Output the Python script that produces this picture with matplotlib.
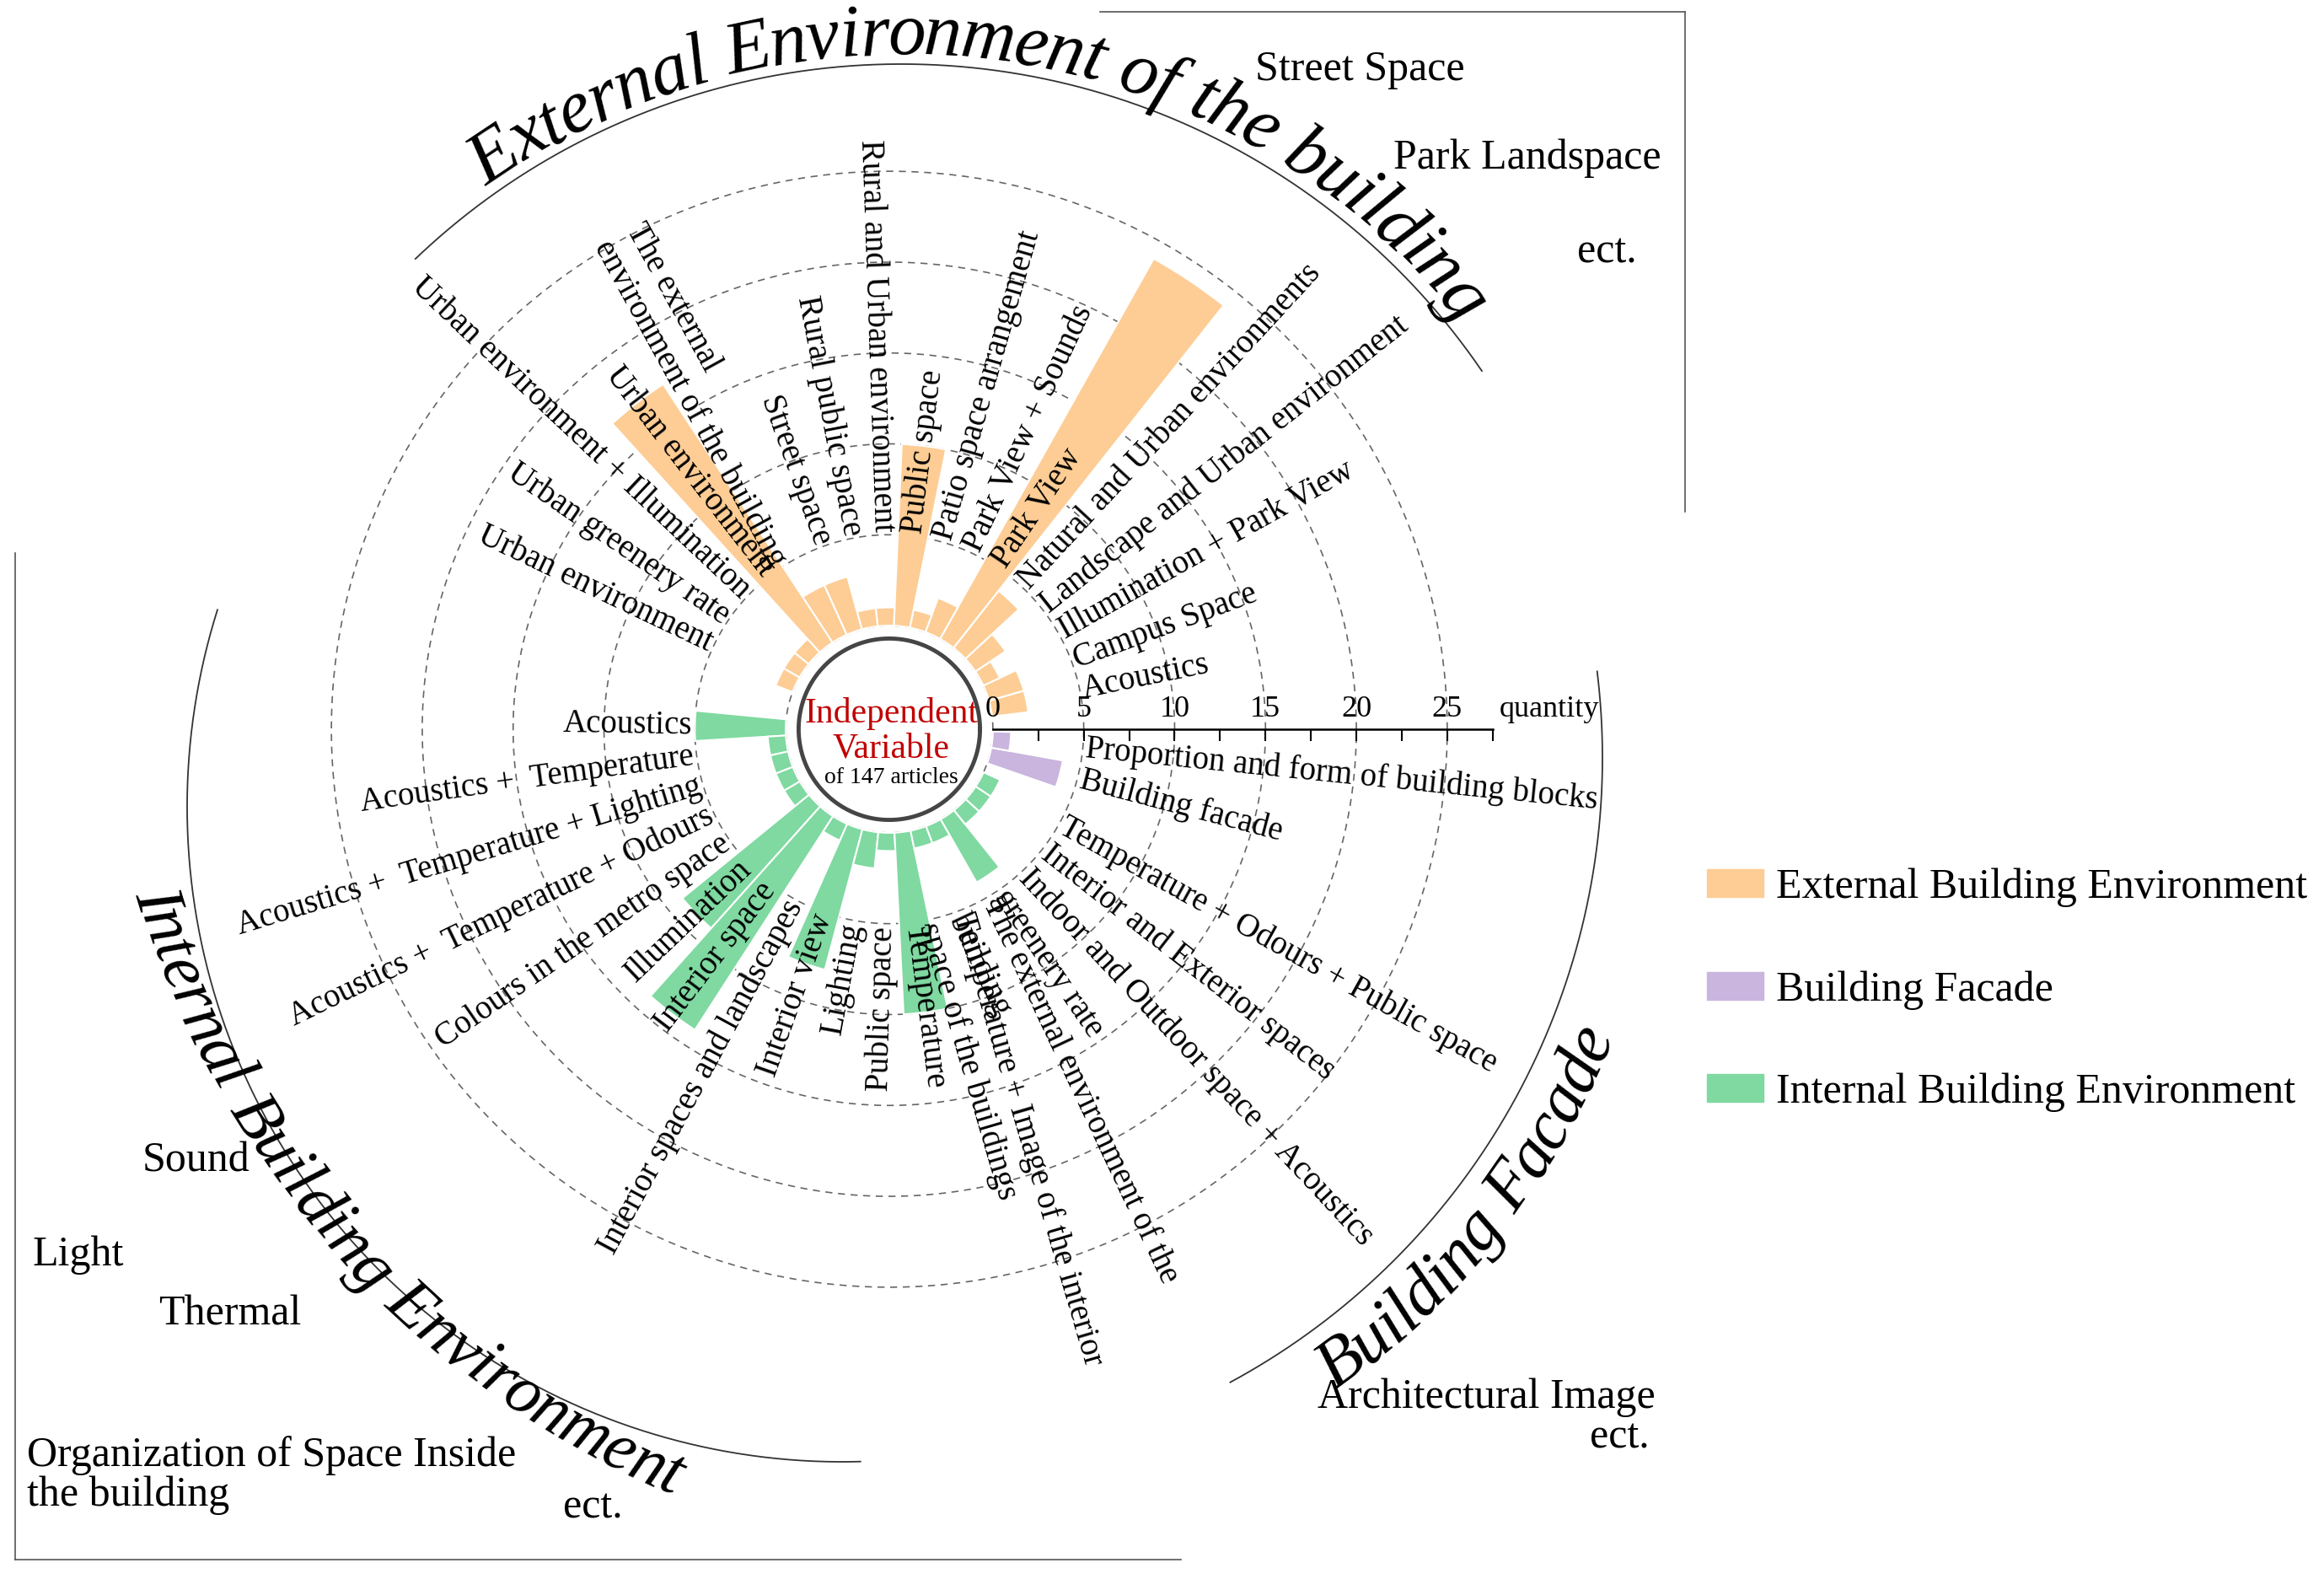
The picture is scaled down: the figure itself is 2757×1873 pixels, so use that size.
import numpy as np
import matplotlib
matplotlib.use('Agg')
import matplotlib.pyplot as plt
from matplotlib.patches import Patch
from matplotlib.font_manager import FontProperties, findfont

SERIF = 'Liberation Serif'
plt.rcParams['font.family'] = SERIF

# ---- data (counts of articles per independent variable) ----
ext_labels = ['Acoustics', 'Campus Space', 'Illumination + Park View',
              'Landscape and Urban environment', 'Natural and Urban environments',
              'Park View', 'Park View + Sounds', 'Patio space arrangement',
              'Public space', 'Rural and Urban environment', 'Rural public space',
              'Street space', 'The external\nenvironment of the building',
              'Urban environment', 'Urban environment + Illumination',
              'Urban greenery rate', 'Urban environment']
ext_values = [2, 2, 1, 2, 4, 24, 2, 1, 10, 1, 1, 3, 3, 17, 1, 1, 1]

int_labels = ['Acoustics', 'Acoustics +  Temperature',
              'Acoustics +  Temperature + Lighting',
              'Acoustics +  Temperature + Odours', 'Colours in the metro space',
              'Illumination', 'Interior space', 'Interior spaces and landscapes',
              'Interior view', 'Lighting', 'Public space', 'Temperature',
              'Temperature + Image of the interior\nspace of the buildings',
              'The external environment of the\nbuilding', 'greenery rate',
              'Indoor and Outdoor space + Acoustics', 'Interior and Exterior spaces',
              'Temperature + Odours + Public space']
int_values = [5, 1, 1, 1, 1, 9, 14, 1, 8, 2, 1, 10, 1, 1, 4, 1, 1, 1]

fac_labels = ['Building facade', 'Proportion and form of building blocks']
fac_values = [4, 1]

legend_labels = ['External Building Environment', 'Building Facade',
                 'Internal Building Environment']
axis_ticks = [0, 5, 10, 15, 20, 25]

c_ext, c_fac, c_int = '#FDCD95', '#C9B5DE', '#7FD9A1'

# ---- layout ----
W, H = 2757, 1873
CX, CY = 1055, 865          # centre of the chart in pixels
PPU = 21.56                 # pixels per unit
OFF = 5.7                   # inner hole (units)
RMAX = 40
STEP = 8.94                 # degrees per bar

fig = plt.figure(figsize=(W / 100, H / 100), dpi=100)
deco = fig.add_axes([0, 0, 1, 1])
deco.set_xlim(0, W)
deco.set_ylim(H, 0)
deco.axis('off')

R = RMAX * PPU
ax = fig.add_axes([(CX - R) / W, (H - CY - R) / H, 2 * R / W, 2 * R / H],
                  projection='polar')
ax.set_ylim(0, RMAX)
ax.axis('off')

# dashed reference circles
th = np.linspace(0, 2 * np.pi, 500)
for v in axis_ticks:
    ax.plot(th, np.full_like(th, OFF + v), ls=(0, (5, 4)), color='#666666',
            lw=1.2, zorder=1)

# bars + labels
groups = [(ext_values, ext_labels, 11.5, c_ext),
          (int_values, int_labels, 179.0, c_int),
          (fac_values, fac_labels, 345.3, c_fac)]
for vals, labs, start, col in groups:
    ang = start + STEP * np.arange(len(vals))
    ax.bar(np.deg2rad(ang), vals, width=np.deg2rad(STEP), bottom=OFF,
           color=col, edgecolor='white', linewidth=1.5, zorder=2)
    for a, lab in zip(ang, labs):
        a = a % 360
        if 90 < a < 270:
            rot, ha = a - 180, 'right'
        else:
            rot, ha = a, 'left'
        ax.text(np.deg2rad(a), OFF + 5.15, lab, rotation=rot, ha=ha, va='center',
                rotation_mode='anchor', multialignment='left', fontsize=28,
                zorder=4)

# centre circle and text
ax.plot(th, np.full_like(th, 4.99), color='#454545', lw=3.5, zorder=3)
deco.text(CX + 2, 846, 'Independent', ha='center', va='center', color='#C00000',
          fontsize=30)
deco.text(CX + 2, 888, 'Variable', ha='center', va='center', color='#C00000',
          fontsize=30)
deco.text(CX + 2, 922, 'of 147 articles', ha='center', va='center', fontsize=20)

# quantity axis
ax.plot([0, 0], [OFF, OFF + 27.5], color='black', lw=1.8, zorder=5)
minor = np.arange(2.5, 27.6, 2.5)
ax.plot(np.zeros_like(minor), OFF + minor, ls='none', marker=3, ms=10, mew=1.5,
        color='black', zorder=5)
for v in axis_ticks:
    ax.annotate(str(v), xy=(0, OFF + v), xytext=(0, 5), textcoords='offset points',
                ha='center', va='bottom', fontsize=26, zorder=5)
ax.annotate('quantity', xy=(0, OFF + 27.5), xytext=(6, 5), textcoords='offset points',
            ha='left', va='bottom', fontsize=26)

# ---- decorations: frames, arcs, curved titles ----
for xs, ys in [([1305, 1999], [14, 14]), ([1999, 1999], [14, 607]),
               ([18, 18], [656, 1850]), ([18, 1401], [1850, 1850])]:
    deco.plot(xs, ys, color='#555555', lw=1.2)


def arc(cx, cy, r, a1, a2):
    p = np.deg2rad(np.linspace(a1, a2, 300))
    deco.plot(cx + r * np.cos(p), cy - r * np.sin(p), color='#333333', lw=1.3)


arc(1069, 910, 834, 34.3, 133.7)
arc(999, 957, 777, 162.5, 271.6)
arc(1059, 899, 842, 298.4, 367)

renderer = fig.canvas.get_renderer()
title_font = SERIF
if 'italic' not in findfont(FontProperties(family=SERIF, style='italic')).lower():
    title_font = 'DejaVu Serif'


def curved(text, cx, cy, r, a0, size, top, track=1.0):
    fp = FontProperties(family=title_font, style='italic', size=size)
    wI = renderer.get_text_width_height_descent('I', fp, ismath=False)[0]
    adv = [0.0] + [renderer.get_text_width_height_descent(text[:i] + 'I', fp, ismath=False)[0] - wI
                   for i in range(1, len(text) + 1)]
    for i, ch in enumerate(text):
        s = 0.5 * (adv[i] + adv[i + 1]) * track
        d = np.rad2deg(s / r)
        if top:
            a, rot = a0 - d, a0 - d - 90
        else:
            a, rot = a0 + d, a0 + d + 90
        ar = np.deg2rad(a)
        deco.text(cx + r * np.cos(ar), cy - r * np.sin(ar), ch, rotation=rot,
                  ha='center', va='baseline', rotation_mode='anchor',
                  fontproperties=fp)


curved('External Environment of the building', 1069, 910, 846, 125.5, 64, True, 0.97)
curved('Internal Building Environment', 1222, 752, 1106, 196.2, 58, False, 1.0)
curved('Building Facade', 1059, 899, 915, 305.0, 60, False, 0.97)

# side notes
notes = [('Street Space', 1489, 83, 'left'), ('Park Landspace', 1653, 188, 'left'),
         ('ect.', 1871, 299, 'left'), ('Sound', 169, 1377, 'left'),
         ('Light', 39, 1489, 'left'), ('Thermal', 188, 1559, 'left'),
         ('ect.', 668, 1788, 'left'), ('Architectural Image', 1964, 1658, 'right'),
         ('ect.', 1957, 1705, 'right')]
for t, x, y, ha in notes:
    deco.text(x, y, t, ha=ha, va='center', fontsize=36)
deco.text(32, 1750, 'Organization of Space Inside\nthe building', ha='left',
          va='center', fontsize=36, linespacing=1.0)

# legend
handles = [Patch(color=c, label=l) for c, l in zip([c_ext, c_fac, c_int], legend_labels)]
fig.legend(handles=handles, loc='center left', bbox_to_anchor=(0.7180, 0.373),
           frameon=False, prop=FontProperties(family=SERIF, size=36),
           handlelength=1.34, handleheight=0.64, handletextpad=0.3,
           labelspacing=1.5)

fig.savefig('out.png', dpi=100)
